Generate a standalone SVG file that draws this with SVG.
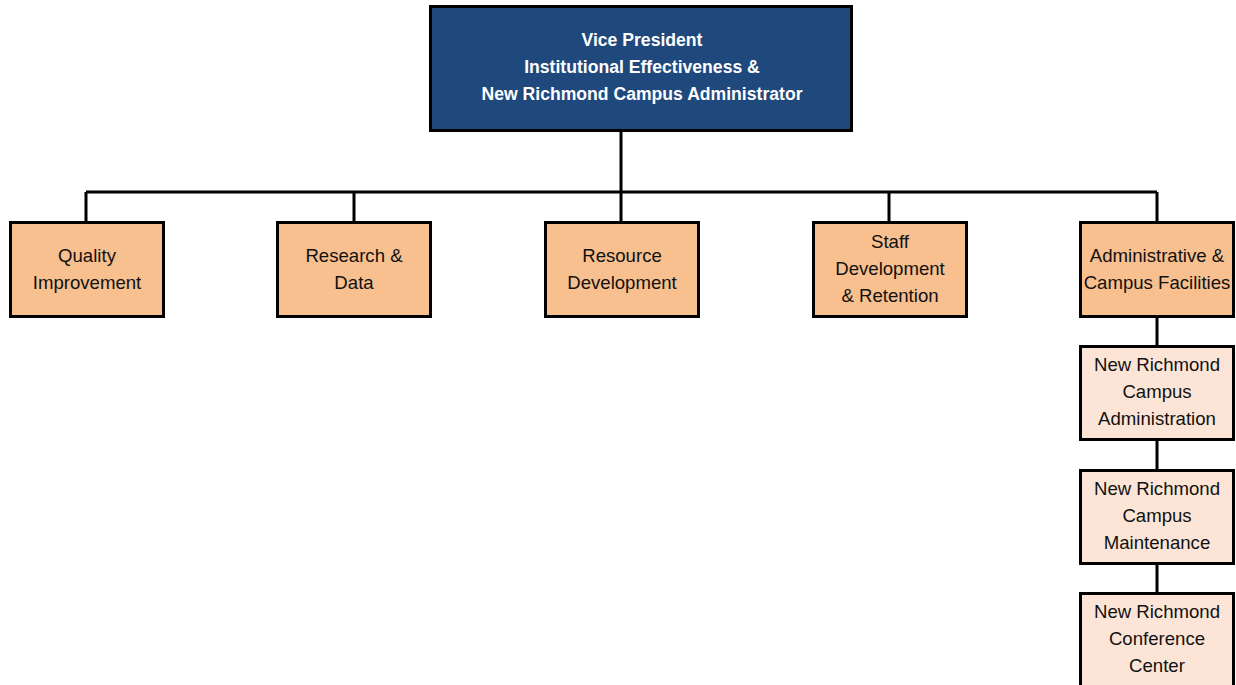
<svg xmlns="http://www.w3.org/2000/svg" width="1236" height="685" viewBox="0 0 1236 685">
  <style>
    .box { stroke: #000; stroke-width: 3; }
    .vp { fill: #1F497D; }
    .unit { fill: #F8BF8F; }
    .sub { fill: #FCE5D6; }
    .line { stroke: #000; stroke-width: 3; fill: none; }
    text { font-family: "Liberation Sans", Arial, sans-serif; font-size: 18.6px; text-anchor: middle; fill: #111; }
    .vpt { fill: #fff; font-weight: bold; font-size: 17.6px; }
  </style>
  <rect width="1236" height="685" fill="#fff"/>
  <g id="connectors">
    <path class="line" d="M621 130 V192 M86 192 H1157 M86 192 V222 M354 192 V222 M621 192 V222 M889 192 V222 M1157 192 V222"/>
    <path class="line" d="M1157 316 V346 M1157 439 V470 M1157 563 V593"/>
  </g>
  <g id="vp">
    <rect class="box vp" x="430.5" y="6.5" width="421" height="124"/>
    <text class="vpt" x="642" y="46">Vice President</text>
    <text class="vpt" x="642" y="73">Institutional Effectiveness &amp;</text>
    <text class="vpt" x="642" y="100">New Richmond Campus Administrator</text>
  </g>
  <g id="quality">
    <rect class="box unit" x="10.5" y="222.5" width="153" height="94"/>
    <text x="87" y="262">Quality</text>
    <text x="87" y="289">Improvement</text>
  </g>
  <g id="research">
    <rect class="box unit" x="277.5" y="222.5" width="153" height="94"/>
    <text x="354" y="262">Research &amp;</text>
    <text x="354" y="289">Data</text>
  </g>
  <g id="resource">
    <rect class="box unit" x="545.5" y="222.5" width="153" height="94"/>
    <text x="622" y="262">Resource</text>
    <text x="622" y="289">Development</text>
  </g>
  <g id="staff">
    <rect class="box unit" x="813.5" y="222.5" width="153" height="94"/>
    <text x="890" y="248">Staff</text>
    <text x="890" y="275">Development</text>
    <text x="890" y="302">&amp; Retention</text>
  </g>
  <g id="admin">
    <rect class="box unit" x="1080.5" y="222.5" width="153" height="94"/>
    <text x="1157" y="262">Administrative &amp;</text>
    <text x="1157" y="289">Campus Facilities</text>
  </g>
  <g id="nr-admin">
    <rect class="box sub" x="1080.5" y="346.5" width="153" height="93"/>
    <text x="1157" y="371">New Richmond</text>
    <text x="1157" y="398">Campus</text>
    <text x="1157" y="425">Administration</text>
  </g>
  <g id="nr-maint">
    <rect class="box sub" x="1080.5" y="470.5" width="153" height="93"/>
    <text x="1157" y="495">New Richmond</text>
    <text x="1157" y="522">Campus</text>
    <text x="1157" y="549">Maintenance</text>
  </g>
  <g id="nr-conf">
    <rect class="box sub" x="1080.5" y="593.5" width="153" height="100"/>
    <text x="1157" y="618">New Richmond</text>
    <text x="1157" y="645">Conference</text>
    <text x="1157" y="672">Center</text>
  </g>
</svg>
